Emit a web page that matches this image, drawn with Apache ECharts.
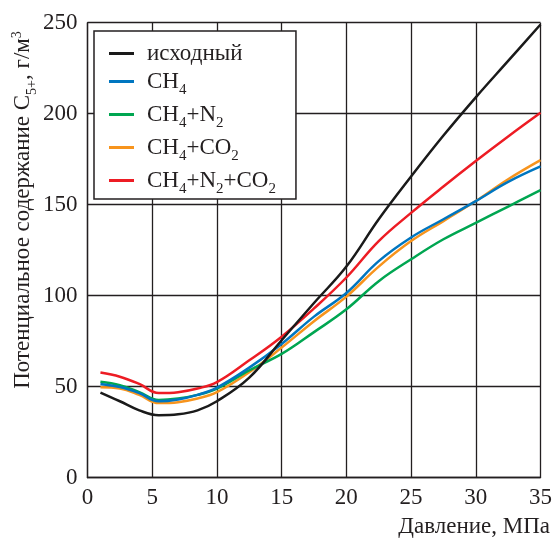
<!DOCTYPE html>
<html><head><meta charset="utf-8">
<script src="https://cdn.jsdelivr.net/npm/echarts@6/dist/echarts.min.js"></script>
<style>html,body{margin:0;padding:0;background:#fff}#c{width:555px;height:541px}</style>
</head><body><div id="c"></div>
<script>
const pressure = [1, 2.5, 4, 5.5, 7, 8.5, 10, 12.5, 15, 17.5, 20, 22.5, 25, 27.5, 30, 32.5, 35];
const seriesNames = ['исходный', 'CH4', 'CH4+N2', 'CH4+CO2', 'CH4+N2+CO2'];
const vInitial = [46.8, 42, 37, 34.3, 34.8, 37, 42, 55, 75.5, 96, 116, 142, 165.5, 188, 209, 229, 249];
const vCH4 = [51.5, 49.8, 46.5, 42, 43, 45.5, 49.5, 60.5, 73.5, 88.5, 101.5, 119, 132, 142, 152, 162.5, 171];
const vCH4N2 = [52.7, 50.8, 47, 42.7, 43.5, 45.5, 49, 59, 68, 80, 92.5, 108, 120, 131, 140, 149, 158];
const vCH4CO2 = [49.7, 49, 45.5, 41, 41.5, 43.5, 47, 58, 71.5, 86, 99.5, 116, 130, 141, 152, 164, 174.5];
const vCH4N2CO2 = [57.8, 55.5, 51.5, 46.5, 47, 49, 52.5, 64.5, 77.5, 93, 110, 130, 145.5, 160, 174, 187.5, 200.5];
const xTicks = [0, 5, 10, 15, 20, 25, 30, 35];
const yTicks = [0, 50, 100, 150, 200, 250];
const colors = ['#1a1a1a', '#0076c0', '#00a651', '#f7941d', '#ed1c24'];
const allValues = [vInitial, vCH4, vCH4N2, vCH4CO2, vCH4N2CO2];

const FONT = '"Liberation Serif", "DejaVu Serif", serif';
const FS = 23;
const chart = echarts.init(document.getElementById('c'), null, {renderer: 'canvas'});

function legendFmt(name) {
  return name.split(/(\d)/).map(function(s, i){
    if (!s) return '';
    return (i % 2 === 1) ? '{sub|' + s + '}' : '{m|' + s + '}';
  }).join('');
}

chart.setOption({
  animation: false,
  color: colors,
  grid: {left: 87.5, right: 13.5, top: 22.7, bottom: 63.3},
  xAxis: {
    type: 'value', min: xTicks[0], max: xTicks[xTicks.length - 1], interval: 5,
    axisLine: {show: true, lineStyle: {color: '#231f20', width: 1.3}},
    axisTick: {show: false},
    splitLine: {show: true, lineStyle: {color: '#231f20', width: 1.3}},
    axisLabel: {fontFamily: FONT, fontSize: FS, color: '#231f20', margin: 9}
  },
  yAxis: {
    type: 'value', min: yTicks[0], max: yTicks[yTicks.length - 1], interval: 50,
    axisLine: {show: true, lineStyle: {color: '#231f20', width: 1.3}},
    axisTick: {show: false},
    splitLine: {show: true, lineStyle: {color: '#231f20', width: 1.3}},
    axisLabel: {fontFamily: FONT, fontSize: FS, color: '#231f20', margin: 10}
  },
  legend: {
    left: 94, top: 31, orient: 'vertical',
    padding: [11, 20, 2, 15],
    itemGap: 5,
    itemWidth: 25, itemHeight: 3,
    backgroundColor: '#fff',
    borderColor: '#231f20', borderWidth: 1.5,
    icon: 'rect',
    formatter: legendFmt,
    textStyle: {
      fontFamily: FONT, fontSize: FS, color: '#231f20', padding: [0, 0, 0, 8],
      rich: {
        m: {fontFamily: FONT, fontSize: FS, color: '#231f20', lineHeight: 23},
        sub: {fontFamily: FONT, fontSize: 15, color: '#231f20', height: 2, lineHeight: 20, padding: [18, 0, 0, 0]}
      }
    },
    data: seriesNames
  },
  graphic: [
    {type: 'text', x: 23, y: 210, rotation: Math.PI / 2,
     style: {text: '{m|Потенциальное содержание С}{sub|5+}{m|, г/м}{sup|3}', align: 'center', verticalAlign: 'middle',
       rich: {
         m: {fontFamily: FONT, fontSize: FS, fill: '#231f20', lineHeight: 23},
         sub: {fontFamily: FONT, fontSize: 14, fill: '#231f20', lineHeight: 12, padding: [18, 0, 0, 0]},
         sup: {fontFamily: FONT, fontSize: 14, fill: '#231f20', lineHeight: 12, padding: [0, 0, 12, 0]}
       }}},
    {type: 'text', x: 550, y: 527,
     style: {text: 'Давление, МПа', align: 'right', verticalAlign: 'middle', font: FS + 'px ' + FONT, fill: '#231f20'}}
  ],
  series: seriesNames.map(function(n, i){
    return {
      name: n, type: 'line', smooth: 0.4, symbol: 'none',
      lineStyle: {width: 2.5, color: colors[i]},
      z: 10 - i,
      data: pressure.map(function(p, j){ return [p, allValues[i][j]]; })
    };
  })
});
</script></body></html>
